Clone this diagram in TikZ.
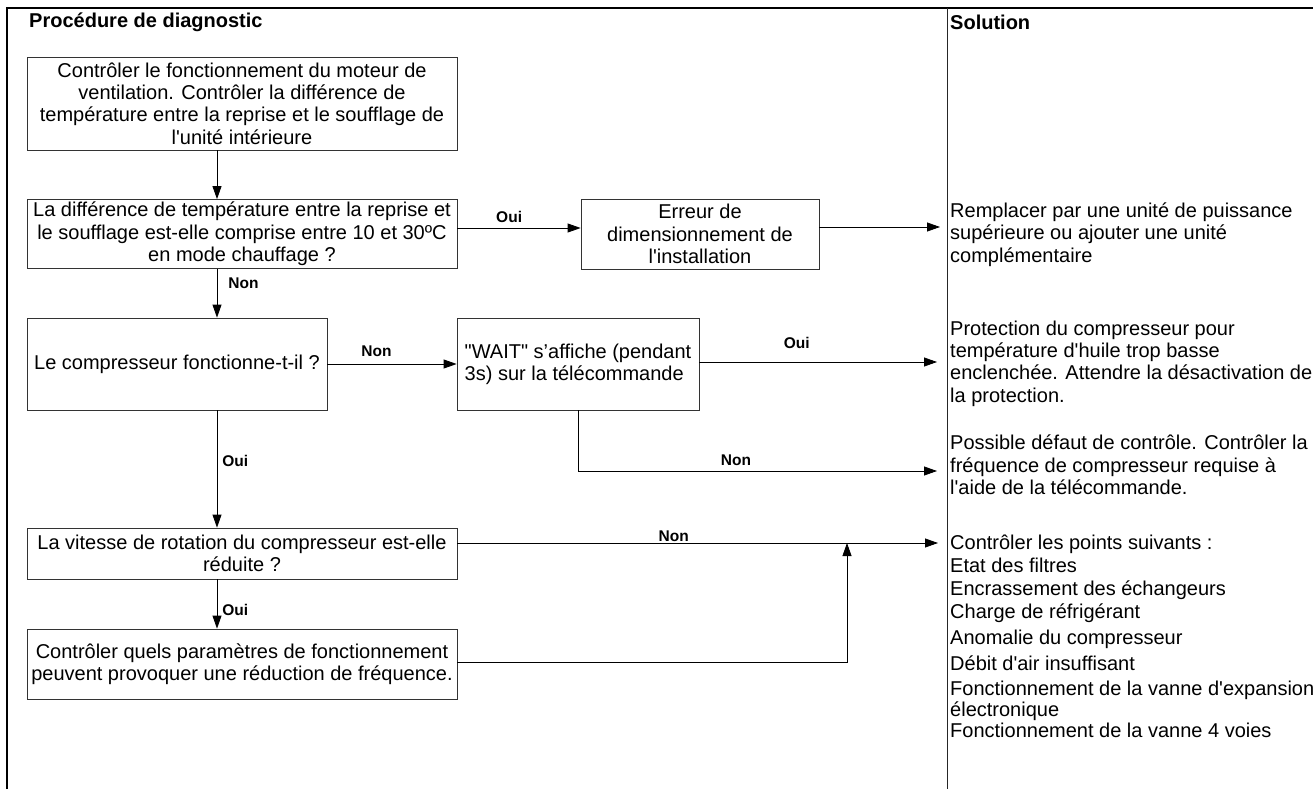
\documentclass[tikz,border=0pt]{standalone}
\usepackage{fontspec}
\setmainfont{Liberation Sans}[Ligatures=TeXOff]
\usetikzlibrary{arrows.meta}

\newcommand{\bodyfont}{\fontsize{20}{22.3}\selectfont}
\newcommand{\lblfont}{\fontsize{15.5}{18}\selectfont\bfseries}

\tikzset{
  stepbox/.style={draw=black!80, line width=0.8pt, align=center, inner sep=2pt, font=\bodyfont},
  soltext/.style={anchor=north west, align=left, inner sep=0pt, font=\bodyfont},
  headtext/.style={anchor=west, inner sep=0pt, font=\bodyfont\bfseries},
  lbl/.style={inner sep=1pt, font=\lblfont},
  arr/.style={-{Triangle[length=13pt,width=9pt]}, line width=0.8pt},
  frame/.style={line width=1.2pt}
}

\begin{document}
\begin{tikzpicture}[x=1pt,y=-1pt]
\useasboundingbox (0,0) rectangle (1313,789);

% cadre du tableau
\draw[frame] (7,789) -- (7,8) -- (1313,8);
\draw[line width=0.9pt, black!85] (947,8) -- (947,789);

% titres des colonnes
\node[headtext] (hdiag) at (29,22) {Procédure de diagnostic};
\node[headtext] (hsol) at (950,22) {Solution};

% etapes du diagnostic
\node[stepbox, minimum width=430, minimum height=93] (chk) at (242,103.5)
  {Contrôler le fonctionnement du moteur de\\ ventilation. Contrôler la différence de\\ température entre la reprise et le soufflage de\\ l'unité intérieure};
\node[stepbox, minimum width=430, minimum height=69] (delta) at (242,234)
  {La différence de température entre la reprise et\\ le soufflage est-elle comprise entre 10 et 30ºC\\ en mode chauffage ?};
\node[stepbox, minimum width=238, minimum height=70] (dim) at (700,234)
  {Erreur de\\ dimensionnement de\\ l'installation};
\node[stepbox, minimum width=300, minimum height=92] (comp) at (177,364)
  {Le compresseur fonctionne-t-il ?};
\node[stepbox, align=left, minimum width=242, minimum height=92] (wait) at (578,364)
  {"WAIT" s’affiche (pendant\\ 3s) sur la télécommande};
\node[stepbox, minimum width=430, minimum height=51] (speed) at (242,553.5)
  {La vitesse de rotation du compresseur est-elle\\ réduite ?};
\node[stepbox, minimum width=430, minimum height=70] (param) at (242,664)
  {Contrôler quels paramètres de fonctionnement\\ peuvent provoquer une réduction de fréquence.};

% solutions
\node[soltext] (sol1) at (950,202.5)
  {Remplacer par une unité de puissance\\ supérieure ou ajouter une unité\\ complémentaire};
\node[soltext] (sol2) at (950,320.5)
  {Protection du compresseur pour\\ température d'huile trop basse\\ enclenchée. Attendre la désactivation de\\ la protection.};
\node[soltext] (sol3) at (950,435)
  {Possible défaut de contrôle. Contrôler la\\ fréquence de compresseur requise à\\ l'aide de la télécommande.};
\node[soltext] (sol4) at (950,535)
  {Contrôler les points suivants :\\ Etat des filtres\\[0.7pt] Encrassement des échangeurs\\[0.7pt]
   Charge de réfrigérant\\[3.7pt] Anomalie du compresseur\\[3.7pt] Débit d'air insuffisant\\[2.7pt]
   Fonctionnement de la vanne d'expansion\\[-1.3pt] électronique\\[-1.3pt] Fonctionnement de la vanne 4 voies};

% bouts des fleches vers les solutions
\coordinate (s1) at (940,227);
\coordinate (s2) at (937,362);
\coordinate (s3) at (937,471);
\coordinate (s4) at (938,543);
\coordinate (j1) at (847,543);

% liaisons
\draw[arr] ([xshift=-25pt]chk.south) -- ([xshift=-25pt]delta.north);
\draw[arr] ([yshift=6pt]delta.east) -- node[lbl, pos=0.42, above=4pt] (l1) {Oui} ([yshift=6pt]dim.west);
\draw[arr] ([yshift=7pt]dim.east) -- (s1);
\draw[arr] ([xshift=-25pt]delta.south) -- node[lbl, pos=0.29, right=10pt] (l2) {Non} ([xshift=40pt]comp.north);
\draw[arr] (comp.east) -- node[lbl, pos=0.38, above=6pt] (l3) {Non} (wait.west);
\draw[arr] ([yshift=2pt]wait.east) -- node[lbl, pos=0.41, above=12pt] (l4) {Oui} (s2);
\draw[arr] (wait.south) |- node[lbl, pos=0.72, above=4pt] (l5) {Non} (s3);
\draw[arr] ([xshift=40pt]comp.south) -- node[lbl, pos=0.43, right=4pt] (l6) {Oui} ([xshift=-25pt]speed.north);
\draw[arr] ([yshift=10.5pt]speed.east) -- node[lbl, pos=0.45, above=0pt] (l7) {Non} (s4);
\draw[arr] ([xshift=-25pt]speed.south) -- node[lbl, pos=0.62, right=4pt] (l8) {Oui} ([xshift=-25pt]param.north);
\draw[arr] ([yshift=2pt]param.east) -| (j1);

\end{tikzpicture}
\end{document}
